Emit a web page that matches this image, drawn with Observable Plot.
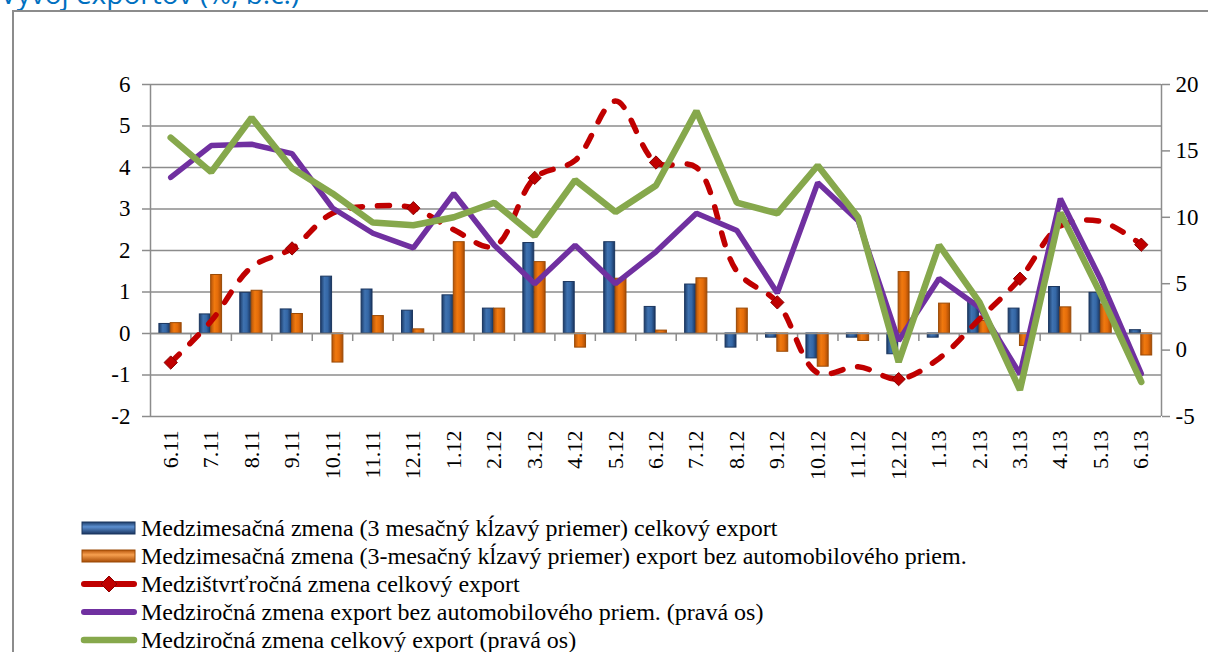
<!DOCTYPE html>
<html>
<head>
<meta charset="utf-8">
<script src="https://cdn.jsdelivr.net/npm/d3@7"></script>
<script src="https://cdn.jsdelivr.net/npm/@observablehq/plot@0.6"></script>
<style>
  body { margin: 0; background: #fff; }
  #wrap { position: relative; width: 1208px; height: 652px; overflow: hidden; background: #fff; }
  #title { position: absolute; left: 0; top: -21px; font-family: "Open Sans", sans-serif; font-size: 28px; line-height: 28px; color: #0070C0; white-space: nowrap; }
  #frame { position: absolute; left: 12px; top: 10px; width: 1400px; height: 900px; border: 2px solid #8c8c8c; box-sizing: border-box; }
  #chart { position: absolute; left: 0; top: 0; }
  #chart svg text { font-family: "Liberation Serif", serif !important; }
  #legend { position: absolute; left: 80px; top: 514px; font-family: "Liberation Serif", serif; font-size: 24px; color: #000; }
  .row { height: 28px; display: flex; align-items: center; white-space: nowrap; }
  .row svg { margin-right: 3px; flex: none; }
</style>
</head>
<body>
<div id="wrap">
  <div id="title">Vývoj exportov (%, b.c.)</div>
  <div id="frame"></div>
  <div id="chart"></div>
  <div id="legend"></div>
</div>
<script>
// ---- data ----
const months = ["6.11","7.11","8.11","9.11","10.11","11.11","12.11","1.12","2.12","3.12","4.12","5.12","6.12","7.12","8.12","9.12","10.12","11.12","12.12","1.13","2.13","3.13","4.13","5.13","6.13"];
// Medzimesačná zmena (3M kĺzavý priemer) celkový export – left axis
const momTotal = [0.23,0.46,0.98,0.58,1.37,1.06,0.55,0.92,0.60,2.18,1.24,2.20,0.64,1.18,-0.34,-0.10,-0.60,-0.10,-0.50,-0.10,0.78,0.60,1.12,0.98,0.08];
// Medzimesačná zmena (3M kĺzavý priemer) export bez automobilového priem. – left axis
const momExAuto = [0.25,1.41,1.03,0.47,-0.70,0.42,0.10,2.20,0.60,1.72,-0.34,1.32,0.07,1.33,0.60,-0.44,-0.80,-0.18,1.48,0.72,0.30,-0.30,0.63,0.70,-0.53];
// Medzištvrťročná zmena celkový export – left axis
const qoqTotal = [-0.70,0.30,1.60,2.05,2.90,3.07,3.02,2.50,2.10,3.75,4.17,5.60,4.12,4.00,1.50,0.75,-0.95,-0.80,-1.10,-0.60,0.35,1.32,2.59,2.70,2.14];
const qoqMarkers = ["6.11","9.11","12.11","3.12","6.12","9.12","12.12","3.13","6.13"];
// Medziročná zmena export bez automobilového priem. – right axis
const yoyExAuto = [13.0,15.4,15.5,14.8,10.7,8.8,7.7,11.8,7.9,5.0,7.9,5.0,7.4,10.3,9.0,4.3,12.6,9.75,0.7,5.4,3.2,-1.8,11.4,5.3,-1.77];
// Medziročná zmena celkový export – right axis
const yoyTotal = [16.0,13.4,17.5,13.7,11.8,9.6,9.4,10.0,11.1,8.6,12.8,10.4,12.4,18.0,11.1,10.3,13.9,10.0,-0.9,7.9,3.6,-3.0,10.35,4.2,-2.4];
const leftTicks = [-2,-1,0,1,2,3,4,5,6];
const rightTicks = [-5,0,5,10,15,20];
const legendLabels = [
  "Medzimesačná zmena (3 mesačný kĺzavý priemer) celkový export",
  "Medzimesačná zmena (3-mesačný kĺzavý priemer) export bez automobilového priem.",
  "Medzištvrťročná zmena celkový export",
  "Medziročná zmena export bez automobilového priem. (pravá os)",
  "Medziročná zmena celkový export (pravá os)"
];

// ---- dual axis mapping: right [-5,20] -> left [-2,6] ----
const toLeft = r => (r + 5) * 8 / 25 - 2;
const toRight = l => (l + 2) * 25 / 8 - 5;

const rows = months.map((m, i) => ({
  i, m,
  blue: momTotal[i], orange: momExAuto[i],
  red: qoqTotal[i],
  purple: toLeft(yoyExAuto[i]), green: toLeft(yoyTotal[i])
}));
const markerRows = rows.filter(d => qoqMarkers.includes(d.m));
const bounds = d3.range(months.length - 1).map(i => i + 0.5);

const GRID = "#8c8c8c";
const RED = "#C00000", PURPLE = "#7030A0", GREEN = "#86A84C";
const FONT = "Liberation Serif";

const chart = Plot.plot({
  width: 1208,
  height: 510,
  marginLeft: 150,
  marginRight: 47,
  marginTop: 84,
  marginBottom: 94,
  x: { domain: [-0.5, months.length - 0.5], axis: null },
  y: { domain: [-2, 6], axis: null },
  style: { fontFamily: FONT, fontSize: "22px", color: "#000", background: "transparent", overflow: "visible" },
  marks: [
    Plot.gridY(leftTicks, { stroke: GRID, strokeOpacity: 1, strokeWidth: 1.5 }),
    Plot.ruleX([-0.5, months.length - 0.5], { y1: -2, y2: 6, stroke: GRID, strokeWidth: 1.5 }),
    Plot.axisY(leftTicks, { anchor: "left", label: null, tickSize: 8, tickPadding: 12, stroke: GRID, strokeWidth: 1.5, fontSize: 23, fontFamily: FONT, tickFormat: d => String(d) }),
    Plot.axisY(rightTicks.map(toLeft), { anchor: "right", label: null, tickSize: 8, tickPadding: 6, stroke: GRID, strokeWidth: 1.5, fontSize: 23, fontFamily: FONT, tickFormat: d => String(Math.round(toRight(d))) }),
    Plot.rect(rows, { x1: d => d.i - 0.28, x2: d => d.i - 0.01, y1: 0, y2: "blue", fill: "url(#gBlue)", stroke: "#1b365f", strokeWidth: 1 }),
    Plot.rect(rows, { x1: d => d.i + 0.0, x2: d => d.i + 0.27, y1: 0, y2: "orange", fill: "url(#gOrange)", stroke: "#9a4a06", strokeWidth: 1 }),
    Plot.ruleY([0], { stroke: GRID, strokeWidth: 1.5 }),
    Plot.ruleX(bounds, { y1: 0, y2: -8 / 41.5, stroke: GRID, strokeWidth: 1.5 }),
    Plot.axisX(rows.map(d => d.i), { anchor: "bottom", label: null, tickFormat: i => months[i], tickRotate: -90, tickSize: 0, tickPadding: 14, fontSize: 22, fontFamily: FONT }),
    Plot.line(rows, { x: "i", y: "red", stroke: RED, strokeWidth: 5.5, strokeDasharray: "12,15", strokeLinecap: "round", curve: "catmull-rom" }),
    Plot.dot(markerRows, { x: "i", y: "red", symbol: "diamond2", r: 6, fill: RED, stroke: "#8a0000", strokeWidth: 1 }),
    Plot.line(rows, { x: "i", y: "purple", stroke: PURPLE, strokeWidth: 5.5, strokeLinejoin: "miter", strokeLinecap: "round" }),
    Plot.line(rows, { x: "i", y: "green", stroke: GREEN, strokeWidth: 6.5, strokeLinejoin: "miter", strokeLinecap: "round" })
  ]
});

// gradients for the bevelled bars
const defs = `
<defs>
  <linearGradient id="gBlue" x1="0" x2="1" y1="0" y2="0">
    <stop offset="0" stop-color="#1d3c68"/>
    <stop offset="0.35" stop-color="#3f72b0"/>
    <stop offset="0.65" stop-color="#3467a6"/>
    <stop offset="1" stop-color="#1a3560"/>
  </linearGradient>
  <linearGradient id="gOrange" x1="0" x2="1" y1="0" y2="0">
    <stop offset="0" stop-color="#b5540a"/>
    <stop offset="0.35" stop-color="#f0790f"/>
    <stop offset="0.65" stop-color="#e46c0a"/>
    <stop offset="1" stop-color="#a84c05"/>
  </linearGradient>
</defs>`;
chart.insertAdjacentHTML("afterbegin", defs);
document.getElementById("chart").appendChild(chart);

// legend
const symbols = [
  `<svg width="58" height="16"><rect x="2" y="2" width="53" height="12" fill="url(#lgBlue)" stroke="#1b365f"/><defs><linearGradient id="lgBlue" x1="0" x2="0" y1="0" y2="1"><stop offset="0" stop-color="#1d3c68"/><stop offset="0.4" stop-color="#5b8fd0"/><stop offset="1" stop-color="#1a3560"/></linearGradient></defs></svg>`,
  `<svg width="58" height="16"><rect x="2" y="2" width="53" height="12" fill="url(#lgOrange)" stroke="#9a4a06"/><defs><linearGradient id="lgOrange" x1="0" x2="0" y1="0" y2="1"><stop offset="0" stop-color="#b5540a"/><stop offset="0.4" stop-color="#f7a050"/><stop offset="1" stop-color="#a84c05"/></linearGradient></defs></svg>`,
  `<svg width="58" height="18"><line x1="4" x2="54" y1="9" y2="9" stroke="${RED}" stroke-width="6" stroke-linecap="round"/><path d="M29,1 L37,9 L29,17 L21,9 Z" fill="${RED}" stroke="#8a0000"/></svg>`,
  `<svg width="58" height="16"><line x1="4" x2="54" y1="8" y2="8" stroke="${PURPLE}" stroke-width="6" stroke-linecap="round"/></svg>`,
  `<svg width="58" height="16"><line x1="4" x2="54" y1="8" y2="8" stroke="${GREEN}" stroke-width="6.5" stroke-linecap="round"/></svg>`
];
const legend = document.getElementById("legend");
legendLabels.forEach((t, k) => {
  const row = document.createElement("div");
  row.className = "row";
  row.innerHTML = symbols[k] + `<span>${t}</span>`;
  legend.appendChild(row);
});
</script>
</body>
</html>
